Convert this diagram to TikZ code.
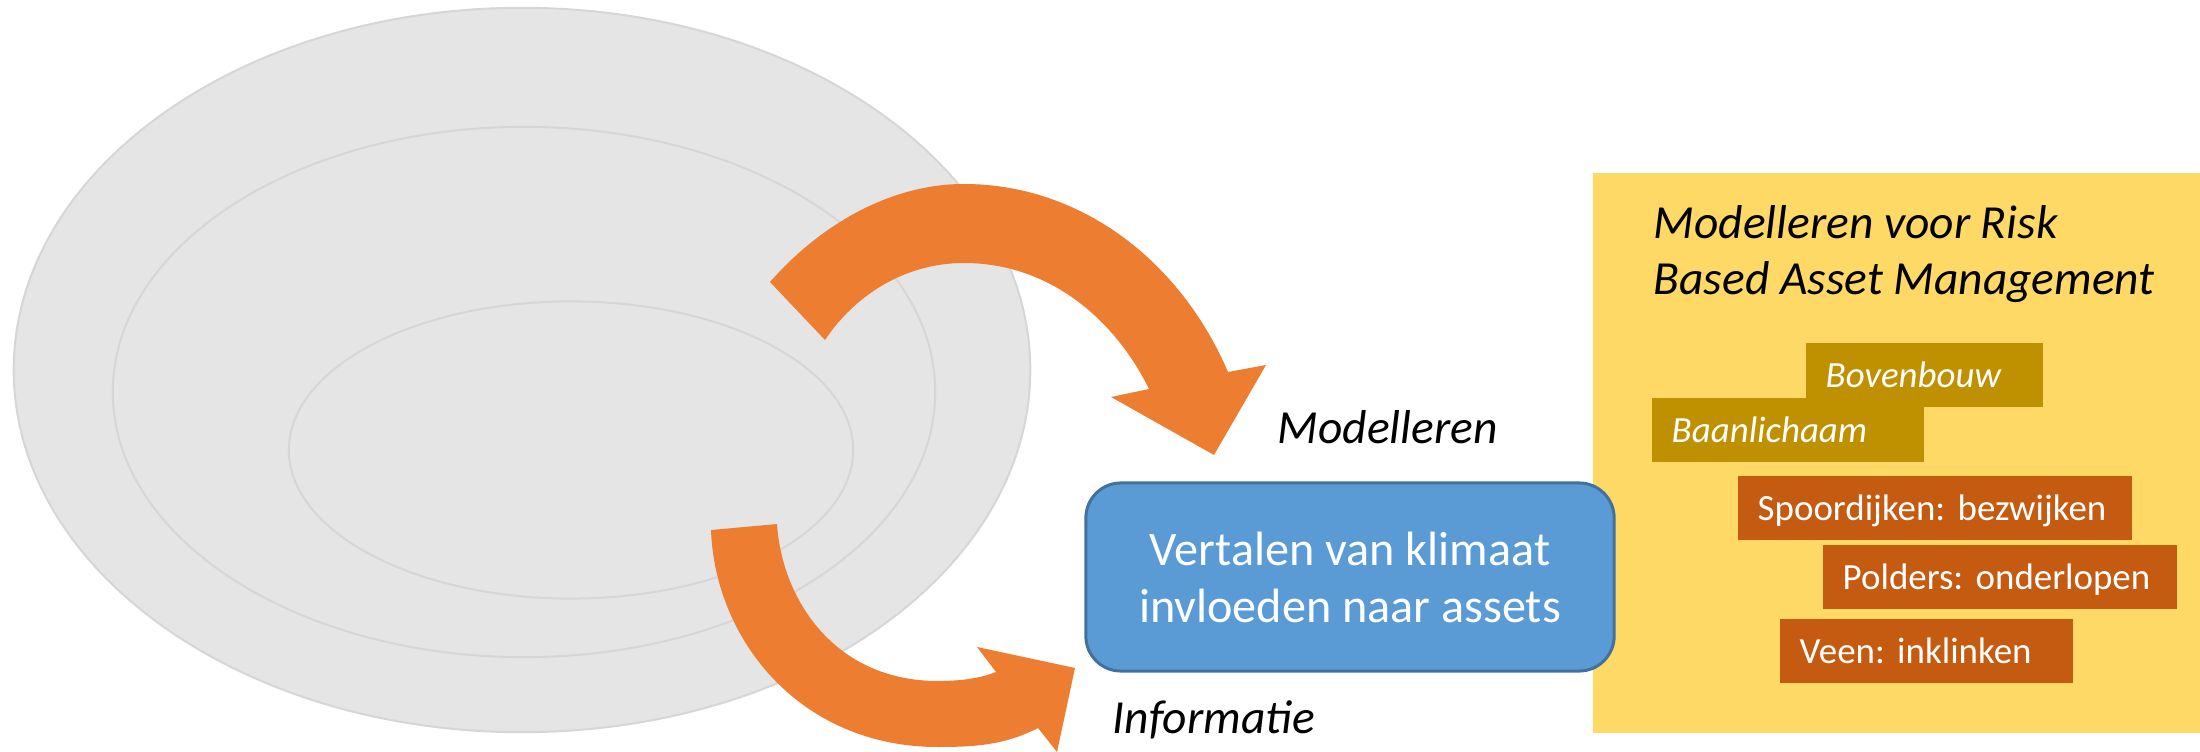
\documentclass[tikz,border=0pt]{standalone}
\usepackage{fontspec}
\setmainfont{Carlito}
\frenchspacing
\definecolor{ringfill}{HTML}{E5E5E5}
\definecolor{ringline}{HTML}{D6D6D6}
\definecolor{arroworange}{HTML}{ED7D31}
\definecolor{boxblue}{HTML}{5B9BD5}
\definecolor{boxborder}{HTML}{41719C}
\definecolor{panelyellow}{HTML}{FFD966}
\definecolor{taggold}{HTML}{BF9000}
\definecolor{tagbrown}{HTML}{C55A11}
\begin{document}
\begin{tikzpicture}[x=0.01cm,y=-0.01cm,
  ring/.style={fill=ringfill,draw=ringline,line width=0.02cm},
  bigarrow/.style={fill=arroworange},
  panel/.style={fill=panelyellow,draw=none,anchor=north west,inner sep=0pt},
  bluebox/.style={fill=boxblue,draw=boxborder,line width=0.03cm,rounded corners=0.35cm,
    minimum width=5.28cm,minimum height=1.88cm,align=center,text=white,inner sep=0pt,
    font=\fontsize{13.7}{16.2}\selectfont},
  captxt/.style={inner sep=0pt,text=black,font=\fontsize{13.5}{16.1}\selectfont\itshape},
  tagbox/.style={anchor=north west,inner xsep=0.2cm,inner ysep=0pt,text height=0.445cm,
    text depth=0.199cm,align=left,text=white,font=\fontsize{10.5}{12}\selectfont},
  goldtag/.style={tagbox,fill=taggold,font=\fontsize{10.5}{12}\selectfont\itshape},
  browntag/.style={tagbox,fill=tagbrown}
]
\useasboundingbox (0,0) rectangle (2200,752);
% right panel
\node[panel,minimum width=6.08cm,minimum height=5.6cm] (panel) at (1592,172) {};
% rings
\draw[ring] (522,370) ellipse [x radius=5.08cm, y radius=3.62cm];
\draw[ring] (524,392) ellipse [x radius=4.11cm, y radius=2.65cm];
\draw[ring] (571,450) ellipse [x radius=2.82cm, y radius=1.485cm];
% upper curved arrow
\fill[bigarrow] (770,282) .. controls (820,225) and (890,184) .. (964,184)
  .. controls (1080,184) and (1180,260) .. (1228,372)
  -- (1266,365) -- (1214,455) -- (1111,397) -- (1149,389)
  .. controls (1115,320) and (1050,263) .. (964,263)
  .. controls (905,263) and (855,295) .. (825,340) -- cycle;
% lower curved arrow
\fill[bigarrow] (711,530) .. controls (715,640) and (800,747) .. (938,747)
  .. controls (975,747) and (1005,745) .. (1038,728)
  -- (1057,752) -- (1075,668) -- (977,647) -- (996,672)
  .. controls (978,679) and (958,681) .. (938,681)
  .. controls (835,681) and (782,600) .. (777,524) -- cycle;
% central box
\node[bluebox] (core) at (1350,577) {Vertalen van klimaat\\invloeden naar assets};
% labels
\node[captxt,anchor=base west] (modlab) at (1277,443) {Modelleren};
\node[captxt,anchor=base west] (inflab) at (1112,733) {Informatie};
\node[captxt,anchor=base west,align=left] (title) at (1653,295) {Modelleren voor Risk\\Based Asset Management};
% tags
\node[goldtag,text width=1.97cm] (boven) at (1805,342) {Bovenbouw};
\node[goldtag,text width=2.32cm] (baan) at (1651,397) {Baanlichaam};
\node[browntag,text width=3.54cm] (spoor) at (1737,475) {Spoordijken: bezwijken};
\node[browntag,text width=3.14cm] (polder) at (1822,544) {Polders: onderlopen};
\node[browntag,text width=2.53cm] (veen) at (1779,618) {Veen: inklinken};
\end{tikzpicture}
\end{document}
